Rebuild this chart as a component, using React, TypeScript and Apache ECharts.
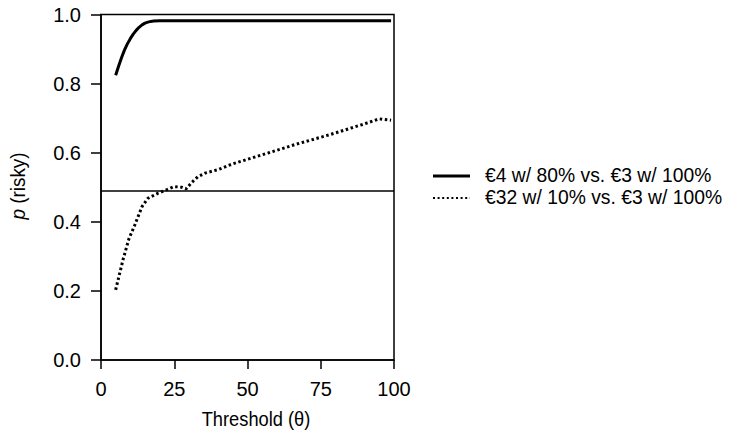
import React, { useEffect, useRef } from "react";
import * as echarts from "echarts";

const FONT = "'Liberation Sans', Arial, sans-serif";

const seriesNames = ["€4 w/ 80% vs. €3 w/ 100%", "€32 w/ 10% vs. €3 w/ 100%"];

const solidX = [5, 6, 7, 8, 9, 10, 11, 12, 13, 14, 15, 16, 17, 18, 20, 22, 25, 30, 40, 50, 60, 70, 80, 90, 99];
const solidY = [0.824, 0.85, 0.875, 0.897, 0.915, 0.93, 0.943, 0.954, 0.963, 0.97, 0.975, 0.978, 0.98, 0.981, 0.982, 0.982, 0.982, 0.982, 0.982, 0.982, 0.982, 0.982, 0.982, 0.982, 0.982];

const dottedX = [5, 7.5, 9.5, 11.5, 14, 16, 19.5, 22.5, 25, 27.5, 29, 31, 33, 35.5, 40, 45, 57, 66, 78, 89, 95, 99];
const dottedY = [0.203, 0.29, 0.35, 0.39, 0.444, 0.468, 0.483, 0.493, 0.502, 0.5, 0.495, 0.514, 0.53, 0.541, 0.551, 0.568, 0.599, 0.623, 0.652, 0.681, 0.698, 0.694];

const referenceLine = 0.487;

const xTicks = [0, 25, 50, 75, 100];
const yTicks = [0, 0.2, 0.4, 0.6, 0.8, 1.0];

export default function App() {
  const ref = useRef<HTMLDivElement>(null);
  useEffect(() => {
    if (!ref.current) return;
    const chart = echarts.init(ref.current, undefined, { renderer: "svg" });
    const labelStyle = { color: "#000", fontSize: 20, fontFamily: FONT };
    chart.setOption({
      animation: false,
      backgroundColor: "#fff",
      grid: {
        left: 101,
        top: 14.5,
        right: 337,
        bottom: 74,
        show: true,
        borderColor: "#000",
        borderWidth: 1.5,
        backgroundColor: "transparent",
      },
      xAxis: {
        type: "value",
        min: xTicks[0],
        max: xTicks[xTicks.length - 1],
        interval: 25,
        axisLine: { show: true, lineStyle: { color: "#000", width: 1.5 } },
        axisTick: { show: true, inside: false, length: 9, lineStyle: { color: "#000", width: 1.5 } },
        axisLabel: { ...labelStyle, margin: 19 },
        splitLine: { show: false },
      },
      yAxis: {
        type: "value",
        min: yTicks[0],
        max: yTicks[yTicks.length - 1],
        interval: 0.2,
        axisLine: { show: true, lineStyle: { color: "#000", width: 1.5 } },
        axisTick: { show: true, inside: false, length: 10, lineStyle: { color: "#000", width: 1.5 } },
        axisLabel: { ...labelStyle, margin: 20, formatter: (v: number) => v.toFixed(1) },
        splitLine: { show: false },
      },
      series: [
        {
          name: seriesNames[0],
          type: "line",
          symbol: "none",
          data: solidX.map((x, i) => [x, solidY[i]]),
          lineStyle: { color: "#000", width: 3 },
          markLine: {
            silent: true,
            symbol: "none",
            label: { show: false },
            lineStyle: { color: "#000", width: 1.5, type: "solid" },
            data: [{ yAxis: referenceLine }],
          },
        },
        {
          name: seriesNames[1],
          type: "line",
          symbol: "none",
          data: dottedX.map((x, i) => [x, dottedY[i]]),
          lineStyle: { color: "#000", width: 3, type: [2.5, 2.6], cap: "butt" },
        },
      ],
      graphic: [
        {
          type: "text",
          x: 18,
          y: 186,
          rotation: Math.PI / 2,
          scaleX: 0.9,
          style: {
            text: "{i|p} (risky)",
            align: "center",
            verticalAlign: "middle",
            fill: "#000",
            fontSize: 21,
            fontFamily: FONT,
            rich: {
              i: { fontStyle: "italic", fontSize: 21, fontFamily: FONT, fill: "#000" },
            },
          },
        },
        {
          type: "text",
          x: 256,
          y: 419,
          scaleX: 0.87,
          style: {
            text: "Threshold (θ)",
            align: "center",
            verticalAlign: "middle",
            fill: "#000",
            fontSize: 21,
            fontFamily: FONT,
          },
        },
        {
          type: "line",
          shape: { x1: 433, y1: 176, x2: 470, y2: 176 },
          style: { stroke: "#000", lineWidth: 3 },
        },
        {
          type: "text",
          x: 485,
          y: 175,
          scaleX: 0.92,
          style: {
            text: seriesNames[0],
            align: "left",
            verticalAlign: "middle",
            fill: "#000",
            fontSize: 21,
            fontFamily: FONT,
          },
        },
        {
          type: "line",
          shape: { x1: 433, y1: 198, x2: 470, y2: 198 },
          style: { stroke: "#000", lineWidth: 2, lineDash: [2, 2.6] },
        },
        {
          type: "text",
          x: 485,
          y: 197,
          scaleX: 0.92,
          style: {
            text: seriesNames[1],
            align: "left",
            verticalAlign: "middle",
            fill: "#000",
            fontSize: 21,
            fontFamily: FONT,
          },
        },
      ],
    });
    return () => chart.dispose();
  }, []);
  return <div ref={ref} style={{ width: 731, height: 434, position: "absolute", left: 0, top: 0 }} />;
}
